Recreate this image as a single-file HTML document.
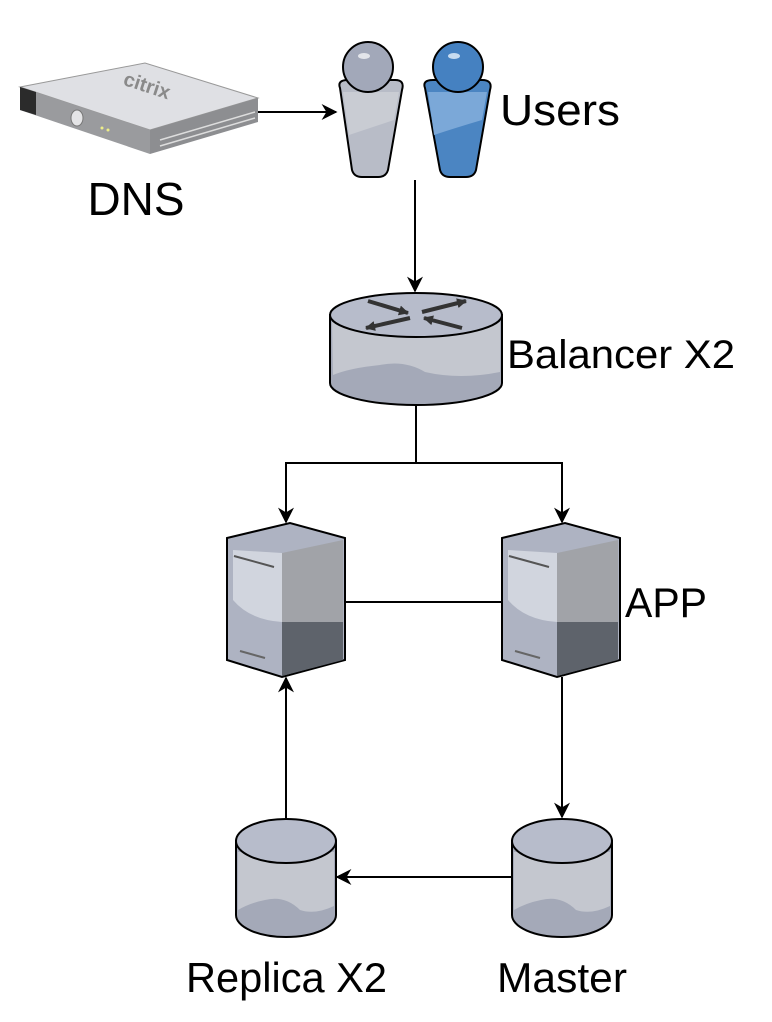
<!DOCTYPE html>
<html><head><meta charset="utf-8"><style>
html,body{margin:0;padding:0;background:#fff}
svg{display:block}
text{font-family:"Liberation Sans",Arial,sans-serif;fill:#000}
</style></head><body>
<svg width="772" height="1022" viewBox="0 0 772 1022" xmlns="http://www.w3.org/2000/svg">
<defs>
<marker id="ab" viewBox="0 0 10 10" refX="9" refY="5" markerWidth="16" markerHeight="16" orient="auto" markerUnits="userSpaceOnUse">
<path d="M0,0 L10,5 L0,10 L3,5 Z" fill="#000"/>
</marker>
<marker id="sm" viewBox="0 0 10 10" refX="9" refY="5" markerWidth="10" markerHeight="10" orient="auto" markerUnits="userSpaceOnUse">
<path d="M0,0 L10,5 L0,10 Z" fill="#333"/>
</marker>
</defs>

<!-- DNS device -->
<polygon points="20,87 145,63 258,98 150,130" fill="#dfe0e4" stroke="#999" stroke-width="1"/>
<polygon points="20,87 150,130 150,154 20,110" fill="#9a9b9e"/>
<polygon points="20,87 36,92 36,115 20,110" fill="#2b2b2b"/>
<polygon points="150,130 258,98 258,122 150,154" fill="#8d8e91"/>
<line x1="160" y1="140" x2="255" y2="112" stroke="#ddd" stroke-width="1.5"/>
<line x1="160" y1="146" x2="255" y2="118" stroke="#ddd" stroke-width="1.5"/>
<ellipse cx="77" cy="118" rx="6" ry="8" fill="#e4e4e6" stroke="#777"/>
<circle cx="102" cy="128" r="1.5" fill="#ee8"/><circle cx="108" cy="130" r="1.5" fill="#ee8"/>
<text x="145" y="92" font-size="20" font-weight="bold" style="fill:#8a8a8a" transform="rotate(18 145 92)" text-anchor="middle">citrix</text>

<line x1="258" y1="112" x2="336" y2="112" stroke="#000" stroke-width="2" marker-end="url(#ab)"/>
<text x="136" y="215" font-size="46" text-anchor="middle" textLength="97" lengthAdjust="spacingAndGlyphs">DNS</text>

<!-- Users -->
<path d="M340,88 Q337,80 348,80 L395,80 Q405,80 402,90 L388,170 Q386,177 378,177 L362,177 Q354,177 352,170 Z" fill="#b8bcc7" stroke="#000" stroke-width="2"/>
<path d="M343,92 L399,92 L394,120 Q370,128 349,135 Z" fill="#c9ccd3"/>
<circle cx="368" cy="67" r="25" fill="#a2a8b9" stroke="#000" stroke-width="2"/>
<ellipse cx="364" cy="56" rx="6" ry="3" fill="#e3e5ea"/>
<path d="M425,88 Q422,80 433,80 L482,80 Q493,80 490,90 L476,170 Q474,177 466,177 L450,177 Q442,177 440,170 Z" fill="#4b85c2" stroke="#000" stroke-width="2"/>
<path d="M428,92 L487,92 L482,120 Q455,128 434,135 Z" fill="#7ba8d8"/>
<circle cx="458" cy="67" r="25" fill="#4581c1" stroke="#000" stroke-width="2"/>
<ellipse cx="454" cy="56" rx="6" ry="3" fill="#c6dbf0"/>
<text x="500" y="125" font-size="44" textLength="120" lengthAdjust="spacingAndGlyphs">Users</text>

<line x1="415" y1="180" x2="415" y2="291" stroke="#000" stroke-width="2" marker-end="url(#ab)"/>

<!-- Balancer -->
<path d="M330,315 L330,383 A86,22 0 0 0 502,383 L502,315 Z" fill="#a4a9b8" stroke="#000" stroke-width="2"/>
<path d="M332,322 L500,322 L500,372 Q460,380 425,372 Q405,360 380,365 Q350,368 333,375 Z" fill="#c4c7cf"/>
<ellipse cx="416" cy="315" rx="86" ry="22" fill="#b7bccb" stroke="#000" stroke-width="2"/>
<g stroke="#333" stroke-width="4">
<line x1="368" y1="301" x2="408" y2="313" marker-end="url(#sm)"/>
<line x1="422" y1="312" x2="466" y2="301" marker-end="url(#sm)"/>
<line x1="410" y1="318" x2="366" y2="328" marker-end="url(#sm)"/>
<line x1="462" y1="328" x2="424" y2="318" marker-end="url(#sm)"/>
</g>
<text x="507" y="368" font-size="40" textLength="228" lengthAdjust="spacingAndGlyphs">Balancer X2</text>

<polyline points="416,405 416,463 286,463 286,522" fill="none" stroke="#000" stroke-width="2" marker-end="url(#ab)"/>
<polyline points="416,463 562,463 562,522" fill="none" stroke="#000" stroke-width="2" marker-end="url(#ab)"/>

<!-- servers -->
<g id="srv">
<polygon points="227,538 290,523 345,538 345,660 282,677 227,660" fill="#aeb3c2" stroke="#000" stroke-width="2"/>
<polygon points="282,553 343,540 343,622 282,622" fill="#a1a3a8"/>
<polygon points="282,622 343,622 343,660 282,676" fill="#5e636b"/>
<path d="M233,550 L282,553 L282,622 Q250,620 233,600 Z" fill="#d1d5de"/>
<line x1="234" y1="556" x2="274" y2="567" stroke="#555" stroke-width="2"/>
<line x1="240" y1="651" x2="265" y2="658" stroke="#666" stroke-width="2"/>
</g>
<use href="#srv" x="275"/>

<line x1="345" y1="602" x2="502" y2="602" stroke="#000" stroke-width="2"/>
<text x="625" y="617" font-size="42" textLength="82" lengthAdjust="spacingAndGlyphs">APP</text>

<line x1="562" y1="677" x2="562" y2="817" stroke="#000" stroke-width="2" marker-end="url(#ab)"/>
<line x1="286" y1="818" x2="286" y2="678" stroke="#000" stroke-width="2" marker-end="url(#ab)"/>
<line x1="512" y1="877" x2="337" y2="877" stroke="#000" stroke-width="2" marker-end="url(#ab)"/>

<g id="cyl">
<path d="M236,841 L236,915 A50,22 0 0 0 336,915 L336,841 Z" fill="#a4a9b8" stroke="#000" stroke-width="2"/>
<path d="M238,852 L334,852 L334,906 Q315,915 300,910 Q285,895 265,900 Q250,903 238,910 Z" fill="#c4c7cf"/>
<ellipse cx="286" cy="841" rx="50" ry="22" fill="#b7bccb" stroke="#000" stroke-width="2"/>
</g>
<use href="#cyl" x="276"/>

<text x="186" y="992" font-size="42" textLength="201" lengthAdjust="spacingAndGlyphs">Replica X2</text>
<text x="497" y="992" font-size="42" textLength="130" lengthAdjust="spacingAndGlyphs">Master</text>
</svg>
</body></html>
